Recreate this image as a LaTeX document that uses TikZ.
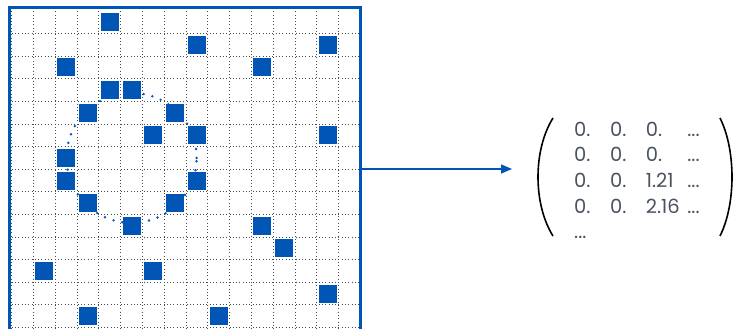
\documentclass[tikz,border=0pt]{standalone}
\usepackage{fontspec}
\usepackage{tikz}
\usetikzlibrary{arrows.meta}
\newfontfamily\matfont{Poppins}
\definecolor{cgBlue}{HTML}{0055B5}
\definecolor{cgDots}{HTML}{4A4A4A}
\definecolor{cgInk}{HTML}{4A5360}

\begin{document}
\begin{tikzpicture}[
  x=1pt,y=-1pt,
  gridline/.style={cgDots,line width=1pt,dash pattern=on 1pt off 2.3pt},
  frame/.style={cgBlue,line width=2.6pt},
  cell/.style={fill=cgBlue,minimum size=18pt,inner sep=0pt},
  ring/.style={circle,draw=cgBlue,line width=2.7pt,dash pattern=on 0pt off 9pt,line cap=round,minimum size=130pt,inner sep=0pt},
  paren/.style={black,line width=1.6pt},
  flow/.style={-{Triangle[length=11pt,width=9pt]},cgBlue,line width=1.3pt}
]
  \useasboundingbox (0,0) rectangle (734,329);
  % dotted grid
  \foreach \i in {0,...,16}
    \draw[gridline] ({11.7+21.8*\i},8) -- ({11.7+21.8*\i},329);
  \foreach \j in {1,...,14}
    \draw[gridline] (11.7,{11+22.6*\j}) -- (360.5,{11+22.6*\j});
  % ring behind the cells
  \node[ring] (loop) at (131.6,157.9) {};
  \foreach \c/\r [count=\k] in {4/0,8/1,14/1,2/2,11/2,4/3,5/3,3/4,7/4,6/5,8/5,14/5,2/6,2/7,8/7,3/8,7/8,5/9,11/9,12/10,1/11,6/11,14/12,3/13,9/13}
    \node[cell] (sq\k) at ({11.7+21.8*(\c+0.5)},{11+22.6*(\r+0.5)}) {};
  % board edges
  \draw[frame] (9.5,329) -- (9.5,7.5) -- (360.5,7.5) -- (360.5,329);
  \coordinate (boardE) at (360.5,169);
  \coordinate (matIn) at (512,169);
  \node[anchor=north west,inner sep=0pt,text=cgInk,font=\matfont\fontsize{19.5}{25.7}\selectfont] (mat) at (574,118) {%
    \begin{tabular}{@{}p{36pt}@{}p{35.7pt}@{}p{41.5pt}@{}l@{}}
      0. & 0. & 0. & ... \\
      0. & 0. & 0. & ... \\
      0. & 0. & 1.21 & ... \\
      0. & 0. & 2.16 & ... \\
      ...
    \end{tabular}};
  \draw[paren] (553,118) .. controls (533,150) and (533,204) .. (553,236);
  \draw[paren] (720,118) .. controls (736,150) and (736,204) .. (720,236);
  \draw[flow] (boardE) -- (matIn);
\end{tikzpicture}
\end{document}
